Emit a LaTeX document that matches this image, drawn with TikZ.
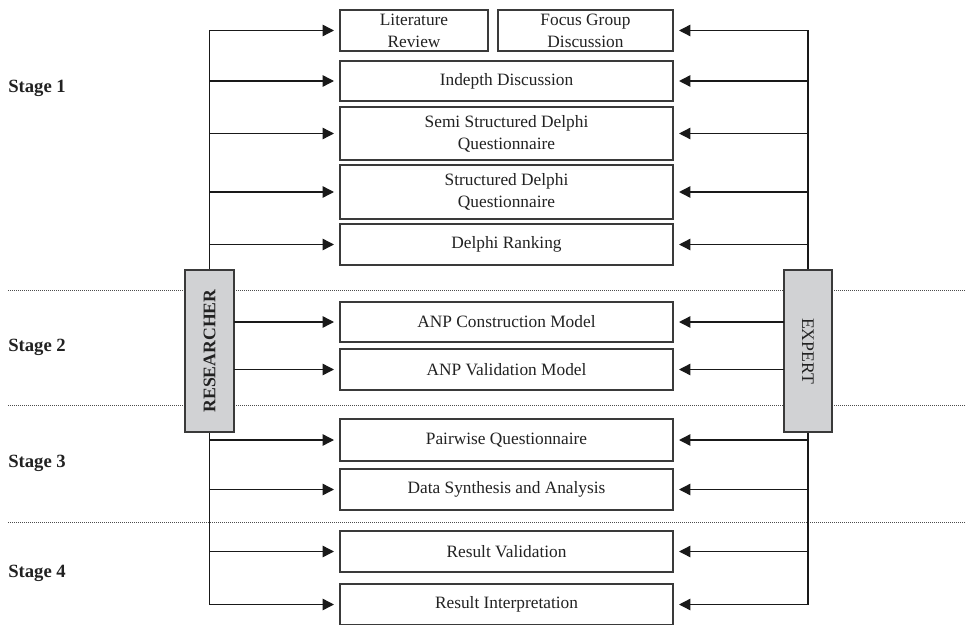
\documentclass[tikz,border=0pt]{standalone}
\usepackage{fontspec}
\setmainfont{Liberation Serif}
\usetikzlibrary{arrows.meta}
\definecolor{boxline}{HTML}{3A3A3A}
\definecolor{txt}{HTML}{222222}
\definecolor{actorfill}{HTML}{D1D2D4}
\begin{document}
\begin{tikzpicture}[x=0.75pt,y=-0.75pt,
  box/.style={draw=boxline,line width=0.9pt,fill=white,rectangle,inner sep=0pt,outer sep=0pt,
    align=center,text=txt,font=\fontsize{13}{16.5}\selectfont},
  actor/.style={draw=boxline,line width=0.9pt,fill=actorfill,rectangle,inner sep=0pt,outer sep=0pt,
    minimum width=36.75pt,minimum height=121.5pt,text=txt,font=\fontsize{13.3}{15}\selectfont},
  conn/.style={draw=black!90,line width=1.05pt},
  arr/.style={conn,-{Triangle[length=8.5pt,width=8.5pt]},shorten >=4.5pt},
  stagelbl/.style={anchor=west,inner sep=0pt,text=txt,font=\fontsize{14}{16}\selectfont\bfseries},
  sep/.style={draw=black!70,line width=0.6pt,dash pattern=on 0.75pt off 0.75pt}
]
\fill[white] (0,0) rectangle (966,624);
\useasboundingbox (0,0) rectangle (966,624);

% separators
\draw[sep] (8,290) -- (966,290);
\draw[sep] (8,405) -- (966,405);
\draw[sep] (8,522) -- (966,522);

% stage labels
\node[stagelbl] (s1) at (8,88) {Stage 1};
\node[stagelbl] (s2) at (8,347) {Stage 2};
\node[stagelbl] (s3) at (8,463) {Stage 3};
\node[stagelbl] (s4) at (8,573) {Stage 4};

% boxes
\node[box,minimum width=111pt,minimum height=30.75pt] (lit) at (414,30.5) {Literature\\Review};
\node[box,minimum width=131.25pt,minimum height=30.75pt] (fgd) at (585.5,30.5) {Focus Group\\Discussion};
\node[box,minimum width=249.75pt,minimum height=30pt] (ind) at (506.5,81) {Indepth Discussion};
\node[box,minimum width=249.75pt,minimum height=39.75pt] (semi) at (506.5,133.5) {Semi Structured Delphi\\Questionnaire};
\node[box,minimum width=249.75pt,minimum height=40.5pt] (str) at (506.5,192) {Structured Delphi\\Questionnaire};
\node[box,minimum width=249.75pt,minimum height=30.75pt] (rank) at (506.5,244.5) {Delphi Ranking};
\node[box,minimum width=249.75pt,minimum height=30pt] (anpc) at (506.5,322) {ANP Construction Model};
\node[box,minimum width=249.75pt,minimum height=30.75pt] (anpv) at (506.5,369.5) {ANP Validation Model};
\node[box,minimum width=249.75pt,minimum height=31.5pt] (pair) at (506.5,440) {Pairwise Questionnaire};
\node[box,minimum width=249.75pt,minimum height=30.75pt] (data) at (506.5,489.5) {Data Synthesis and Analysis};
\node[box,minimum width=249.75pt,minimum height=30.75pt] (rval) at (506.5,551.5) {Result Validation};
\node[box,minimum width=249.75pt,minimum height=30.75pt] (rint) at (506.5,604.5) {Result Interpretation};

% spine coordinates
\coordinate (L) at (209.5,0);
\coordinate (R) at (808,0);

% vertical spines
\draw[conn] (lit.west -| L) -- (rint.west -| L);
\draw[conn] (fgd.east -| R) -- (rint.east -| R);

% actor boxes
\node[actor] (res) at (209.5,351) {\rotatebox{90}{\bfseries RESEARCHER}};
\node[actor,minimum width=36pt] (exp) at (808,351) {\rotatebox{-90}{EXPERT}};

% researcher arrows
\foreach \b in {lit,ind,semi,str,rank,pair,data,rval,rint}
  \draw[arr] (\b.west -| L) -- (\b.west);
\foreach \b in {anpc,anpv}
  \draw[arr] (\b.west -| res.east) -- (\b.west);

% expert arrows
\foreach \b in {fgd,ind,semi,str,rank,pair,data,rval,rint}
  \draw[arr] (\b.east -| R) -- (\b.east);
\foreach \b in {anpc,anpv}
  \draw[arr] (\b.east -| exp.west) -- (\b.east);
\end{tikzpicture}
\end{document}
